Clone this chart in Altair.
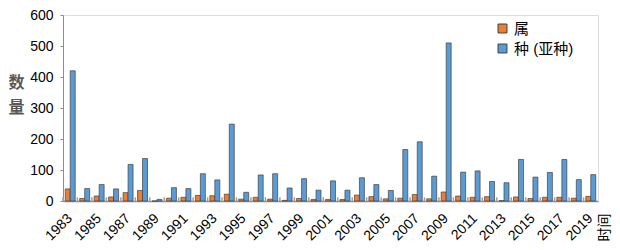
import altair as alt
import pandas as pd

years = ["1983", "1984", "1985", "1986", "1987", "1988", "1989", "1990", "1991", "1992",
         "1993", "1994", "1995", "1996", "1997", "1998", "1999", "2000", "2001", "2002",
         "2003", "2004", "2005", "2006", "2007", "2008", "2009", "2010", "2011", "2012",
         "2013", "2014", "2015", "2016", "2017", "2018", "2019"]
genus = [39, 8, 16, 13, 27, 34, 0, 9, 12, 18, 17, 22, 6, 12, 6, 2, 8,
         5, 5, 5, 19, 14, 7, 9, 21, 7, 29, 16, 12, 14, 1, 13, 8, 12, 12, 9, 15]
species = [420, 40, 53, 39, 118, 137, 5, 43, 40, 88, 68, 248, 28, 84, 88, 42, 72,
           35, 65, 35, 75, 53, 34, 166, 191, 80, 510, 93, 97, 63, 59, 134, 77, 92, 134, 69, 85]
series_names = ["属", "种 (亚种)"]
series_colors = ["#ED7D31", "#5B9BD5"]
y_ticks = [0, 100, 200, 300, 400, 500, 600]

rows = []
for y, g, s in zip(years, genus, species):
    rows.append({"year": y, "series": series_names[0], "value": g})
    rows.append({"year": y, "series": series_names[1], "value": s})
df = pd.DataFrame(rows)
df_years = pd.DataFrame({"year": years})

FONT = "Liberation Sans, Arial, Noto Sans CJK SC"

x_scale = alt.Scale(domain=years, paddingInner=0, paddingOuter=0)
y_scale = alt.Scale(domain=[0, 600])

x_axis = alt.Axis(
    labelExpr="toNumber(datum.value) % 2 == 1 ? datum.label : ''",
    labelAngle=-45, labelAlign="right", labelBaseline="middle",
    labelFontSize=14, labelColor="#000000", labelPadding=15,
    labelOverlap=False,
    ticks=False, tickSize=0, domainColor="#8C8C8C", domainWidth=1.5,
    title="时间", titleAngle=270, titleX=541, titleY=26,
    titleAlign="center", titleBaseline="middle",
    titleFontSize=14, titleFontWeight="normal", titleColor="#000000")

y_axis = alt.Axis(values=y_ticks, grid=False, labelOverlap=False,
                  labelFontSize=14, labelColor="#000000", labelPadding=7,
                  tickSize=3, tickColor="#8C8C8C", domainColor="#8C8C8C",
                  title=["数", "量"], titleAngle=0, titleX=-47, titleY=67,
                  titleAlign="center", titleBaseline="middle", titleLineHeight=25,
                  titleFontSize=16, titleFontWeight="bold", titleColor="#595959")

bars = alt.Chart(df).mark_bar(stroke="#404040", strokeWidth=0.7).encode(
    x=alt.X("year:N", scale=x_scale, sort=years, axis=x_axis),
    xOffset=alt.XOffset("series:N", sort=series_names,
                        scale=alt.Scale(paddingInner=0, paddingOuter=0.45)),
    y=alt.Y("value:Q", scale=y_scale, axis=y_axis),
    color=alt.Color("series:N", sort=series_names,
                    scale=alt.Scale(domain=series_names, range=series_colors),
                    legend=alt.Legend(title=None, orient="none", legendX=432, legendY=6,
                                      symbolType="square", symbolSize=80,
                                      symbolStrokeColor="#404040", symbolStrokeWidth=1,
                                      labelFontSize=15, labelColor="#000000",
                                      rowPadding=4, labelOffset=4)),
)

ticks = alt.Chart(df_years).mark_rule(color="#A0A0A0", strokeWidth=1.5).encode(
    x=alt.X("year:N", scale=x_scale, sort=years, bandPosition=0, axis=x_axis),
    y=alt.Y(datum=0, scale=y_scale, axis=y_axis),
    y2=alt.datum(12),
)

chart = alt.layer(bars, ticks).properties(
    width=535, height=186,
    autosize=alt.AutoSizeParams(type="none"),
    padding={"left": 55, "top": 7, "right": 14, "bottom": 41},
).configure_view(stroke=None).configure(font=FONT)

chart.save("out.html", embed_options={"renderer": "svg", "actions": False})
